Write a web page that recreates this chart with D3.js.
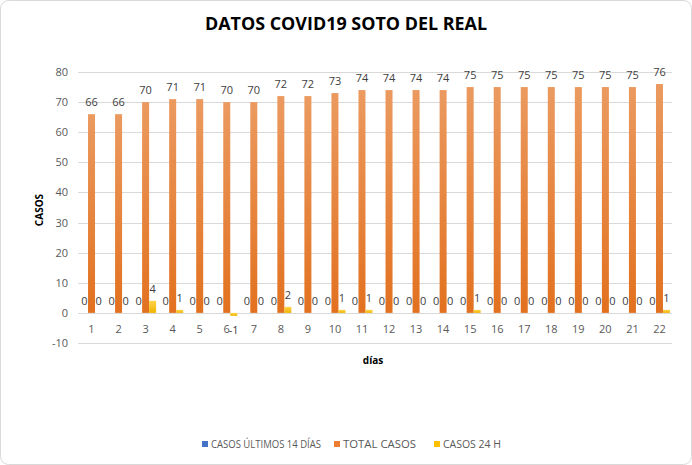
<!DOCTYPE html>
<html>
<head>
<meta charset="utf-8">
<script src="https://cdn.jsdelivr.net/npm/d3@7"></script>
<style>
  body { margin: 0; background: #fff; }
  text { font-family: "Open Sans", "Liberation Sans", sans-serif; }
</style>
</head>
<body>
<div id="chart"></div>
<script>
var days = ['1','2','3','4','5','6','7','8','9','10','11','12','13','14','15','16','17','18','19','20','21','22'];
var casos14 = [0,0,0,0,0,0,0,0,0,0,0,0,0,0,0,0,0,0,0,0,0,0];
var totalCasos = [66,66,70,71,71,70,70,72,72,73,74,74,74,74,75,75,75,75,75,75,75,76];
var casos24 = [0,0,4,1,0,-1,0,2,0,1,1,0,0,0,1,0,0,0,0,0,0,1];
var seriesNames = ['CASOS ÚLTIMOS 14 DÍAS', 'TOTAL CASOS', 'CASOS 24 H'];
var yTicks = [-10,0,10,20,30,40,50,60,70,80];

(function() {
  var width = 692, height = 465;

  var svg = d3.select('#chart').append('svg')
    .attr('width', width).attr('height', height);

  var defs = svg.append('defs');
  var grads = [['gBlue', '#5b8fd6', '#3a6fc0'], ['gOrange', '#eb9a60', '#e2711f'], ['gYellow', '#ffd34d', '#f0b400']];
  grads.forEach(function(g) {
    var lg = defs.append('linearGradient').attr('id', g[0])
      .attr('x1', 0).attr('y1', 0).attr('x2', 0).attr('y2', 1);
    lg.append('stop').attr('offset', '0%').attr('stop-color', g[1]);
    lg.append('stop').attr('offset', '100%').attr('stop-color', g[2]);
  });
  var fills = ['url(#gBlue)', 'url(#gOrange)', 'url(#gYellow)'];
  var legendColors = ['#4472c4', '#ed7d31', '#ffc000'];

  // chart border
  svg.append('rect')
    .attr('x', 0.5).attr('y', 0.5).attr('width', width - 1).attr('height', height - 1)
    .attr('rx', 8).attr('fill', '#fff').attr('stroke', '#d9d9d9');

  var x0 = d3.scaleBand().domain(days).range([78, 673]);
  var x1 = d3.scaleBand().domain([0, 1, 2]).range([0, x0.bandwidth()]).paddingOuter(0.43);
  var y = d3.scaleLinear().domain([-10, 80]).range([343, 72]);

  // grid
  svg.append('g').selectAll('line').data(yTicks).enter().append('line')
    .attr('x1', 78).attr('x2', 672)
    .attr('y1', function(d) { return Math.round(y(d)) + 0.5; })
    .attr('y2', function(d) { return Math.round(y(d)) + 0.5; })
    .attr('stroke', '#d9d9d9');

  // y axis labels
  svg.append('g').selectAll('text').data(yTicks).enter().append('text')
    .attr('x', 68).attr('y', function(d) { return y(d) + 4; })
    .attr('text-anchor', 'end').attr('font-size', 11).attr('fill', '#595959')
    .text(function(d) { return d; });

  // x axis labels
  svg.append('g').selectAll('text').data(days).enter().append('text')
    .attr('x', function(d) { return x0(d) + x0.bandwidth() / 2; })
    .attr('y', 333)
    .attr('text-anchor', 'middle').attr('font-size', 11).attr('fill', '#595959')
    .text(function(d) { return d; });

  var series = [casos14, totalCasos, casos24];
  var bars = [];
  series.forEach(function(vals, si) {
    vals.forEach(function(v, i) {
      bars.push({ s: si, day: days[i], v: v });
    });
  });

  svg.append('g').selectAll('rect').data(bars).enter().append('rect')
    .attr('x', function(d) { return x0(d.day) + x1(d.s); })
    .attr('width', x1.bandwidth())
    .attr('y', function(d) { return y(Math.max(0, d.v)); })
    .attr('height', function(d) { return Math.abs(y(d.v) - y(0)); })
    .attr('fill', function(d) { return fills[d.s]; });

  svg.append('g').selectAll('text').data(bars).enter().append('text')
    .attr('x', function(d) { return x0(d.day) + x1(d.s) + x1.bandwidth() / 2; })
    .attr('y', function(d) { return d.v < 0 ? y(d.v) + 18 : y(d.v) - 8; })
    .attr('text-anchor', 'middle').attr('font-size', 11).attr('fill', '#404040')
    .text(function(d) { return d.v; });

  // title
  svg.append('text').attr('x', 346).attr('y', 30)
    .attr('text-anchor', 'middle').attr('font-size', 17).attr('font-weight', 'bold')
    .attr('fill', '#000').attr('textLength', 282).attr('lengthAdjust', 'spacingAndGlyphs')
    .text('DATOS COVID19 SOTO DEL REAL');

  // axis titles
  svg.append('text').attr('transform', 'translate(43,210) rotate(-90)')
    .attr('text-anchor', 'middle').attr('font-size', 10).attr('font-weight', 'bold')
    .attr('fill', '#000').text('CASOS');
  svg.append('text').attr('x', 373).attr('y', 364)
    .attr('text-anchor', 'middle').attr('font-size', 10).attr('font-weight', 'bold')
    .attr('fill', '#000').text('días');

  // legend
  var legendX = [208, 340, 440];
  var legendLen = [110, 73, 58];
  var lg = svg.append('g');
  seriesNames.forEach(function(name, i) {
    lg.append('rect').attr('x', legendX[i] - 6).attr('y', 441).attr('width', 6).attr('height', 6)
      .attr('fill', legendColors[i]);
    lg.append('text').attr('x', legendX[i] + 3).attr('y', 448)
      .attr('font-size', 10.5).attr('fill', '#595959')
      .attr('textLength', legendLen[i]).attr('lengthAdjust', 'spacingAndGlyphs')
      .text(name);
  });
})();
</script>
</body>
</html>
